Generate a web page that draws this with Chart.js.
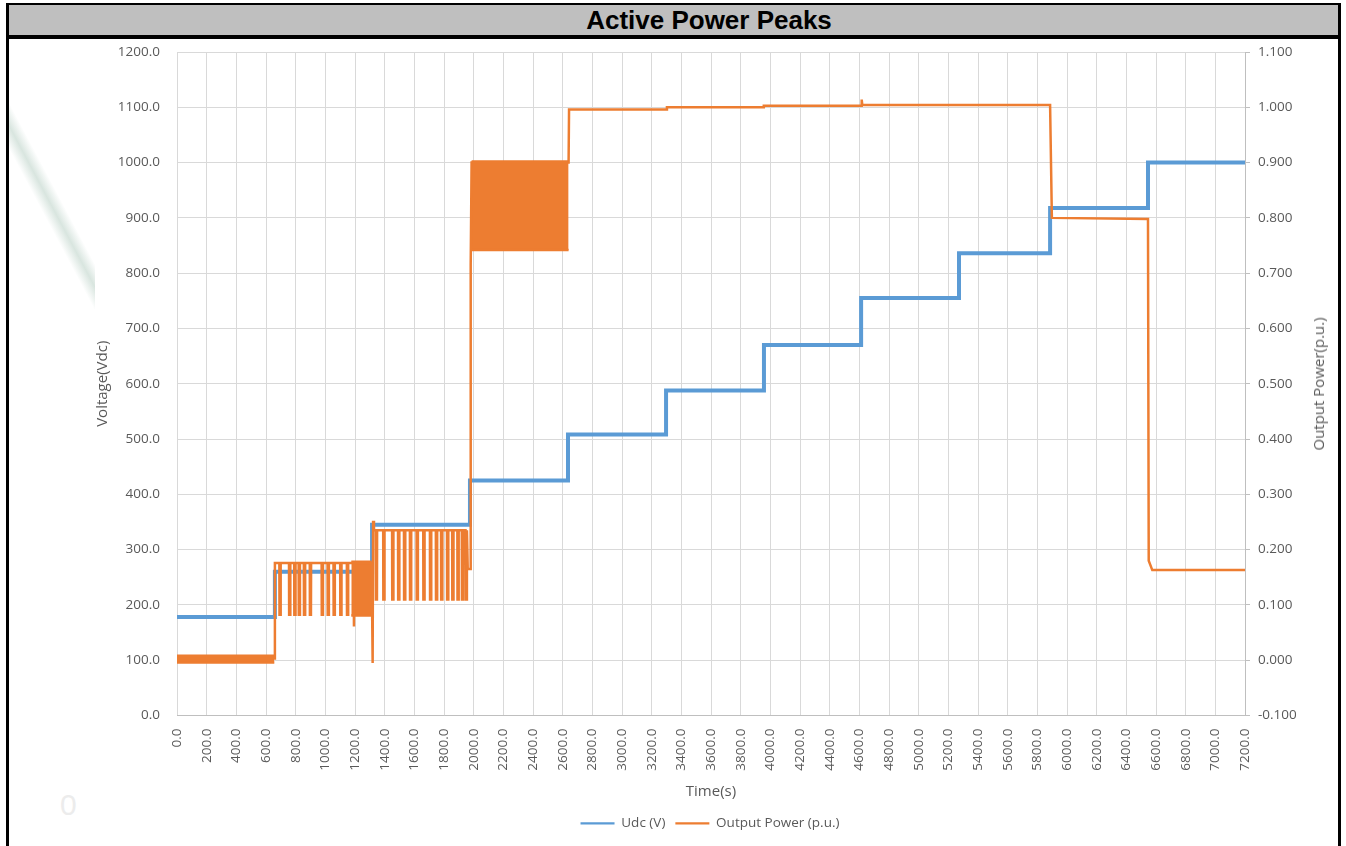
<!DOCTYPE html>
<html>
<head>
<meta charset="utf-8">
<script src="https://cdn.jsdelivr.net/npm/chart.js@4.4.1/dist/chart.umd.min.js"></script>
<style>
html,body{margin:0;padding:0;background:#fff;width:1346px;height:846px;overflow:hidden;font-family:"Open Sans",sans-serif;}
#frame{position:absolute;left:6px;top:3px;width:1329px;height:860px;border-left:3px solid #000;border-right:3px solid #000;border-top:2px solid #000;}
#titlebar{position:absolute;left:0;top:0;width:1329px;height:30px;background:#bfbfbf;border-bottom:4px solid #000;overflow:hidden;}
#titletext{position:absolute;left:0;top:0;width:1400px;text-align:center;font-family:"Liberation Sans",Arial,sans-serif;font-weight:bold;font-size:26px;line-height:30px;color:#000;}
#wmclip{position:absolute;left:9px;top:39px;width:86px;height:300px;overflow:hidden;}
#wmline{position:absolute;left:36px;top:25px;width:22px;height:300px;background:linear-gradient(to right,rgba(205,222,214,0),rgba(185,208,197,0.55),rgba(205,222,214,0));transform:rotate(-28deg);transform-origin:50% 50%;}
#wmzero{position:absolute;left:60px;top:788px;font-size:30px;color:#ececec;font-family:"Liberation Sans",Arial,sans-serif;}
#chartbox{position:absolute;left:10px;top:40px;width:1326px;height:806px;}
#y1title{position:absolute;left:1318px;top:384px;transform:translate(-50%,-50%) rotate(-90deg);white-space:nowrap;font-family:"Open Sans",sans-serif;font-size:15px;color:#595959;}
</style>
</head>
<body>
<div id="frame"><div id="titlebar"><div id="titletext">Active Power Peaks</div></div></div>
<div id="wmclip"><div id="wmline"></div></div>
<div id="wmzero">0</div>
<div id="chartbox"><canvas id="c" width="1326" height="806" style="width:1326px;height:806px"></canvas></div>
<div id="y1title">Output Power(p.u.)</div>
<script>
// ---------- Tick labels ----------
const timeTickLabels = ['0.0','200.0','400.0','600.0','800.0','1000.0','1200.0','1400.0','1600.0','1800.0','2000.0','2200.0','2400.0','2600.0','2800.0','3000.0','3200.0','3400.0','3600.0','3800.0','4000.0','4200.0','4400.0','4600.0','4800.0','5000.0','5200.0','5400.0','5600.0','5800.0','6000.0','6200.0','6400.0','6600.0','6800.0','7000.0','7200.0'];
const voltTickLabels = ['0.0','100.0','200.0','300.0','400.0','500.0','600.0','700.0','800.0','900.0','1000.0','1100.0','1200.0'];
const powerTickLabels = ['-0.100','0.000','0.100','0.200','0.300','0.400','0.500','0.600','0.700','0.800','0.900','1.000','1.100'];

// ---------- Udc (V): step changes ----------
const udcStepTimes = [0, 660, 1315, 1975, 2636, 3297, 3957, 4612, 5272, 5886, 6546, 7200];
const udcLevels    = [178, 260, 345, 425, 508, 588, 670, 755, 836, 918, 1000, 1000];

// ---------- Output Power (p.u.): main trace skeleton ----------
const powerTimes  = [0, 656, 660, 1175, 1190, 1193, 1196, 1312, 1319, 1322, 1328, 1955, 1960, 1976, 1980, 1986, 2640, 2643, 3300, 3303, 3953, 3956, 4613, 4616, 4620, 5886, 5898, 6546, 6551, 6575, 7200];
const powerValues = [0.003, 0.003, 0.176, 0.176, 0.176, 0.061, 0.176, 0.176, -0.005, 0.252, 0.235, 0.235, 0.165, 0.165, 0.715, 0.900, 0.900, 0.996, 0.996, 1.000, 1.000, 1.003, 1.003, 1.014, 1.004, 1.004, 0.800, 0.798, 0.180, 0.163, 0.163];

// periodic drops (dips) of output power
const dropsA = [690, 755, 790, 820, 855, 895, 975, 1015, 1055, 1100, 1145];
const dropsAHigh = 0.176, dropsALow = 0.082;
const dropsB = [1340, 1390, 1450, 1490, 1530, 1570, 1615, 1660, 1705, 1745, 1780, 1820, 1855, 1890, 1920, 1945];
const dropsBHigh = 0.235, dropsBLow = 0.110;

// dense oscillation bands (envelopes)
const bandStart = [0, 1175, 1986];
const bandEnd   = [656, 1312, 2640];
const bandHigh  = [0.008, 0.178, 0.902];
const bandLow   = [-0.004, 0.081, 0.742];

// ---------- build datasets ----------
const ORANGE = '#ED7D31', BLUE = '#5B9BD5';
const udcPts = udcStepTimes.map((t, i) => ({x: t, y: udcLevels[i]}));

const powerPts = powerTimes.map((t, i) => ({x: t, y: powerValues[i]}));
function addDrops(times, hi, lo) {
  times.forEach(t => {
    powerPts.push({x: t, y: hi}, {x: t + 1, y: lo}, {x: t + 8, y: lo}, {x: t + 9, y: hi});
  });
}
addDrops(dropsA, dropsAHigh, dropsALow);
addDrops(dropsB, dropsBHigh, dropsBLow);
powerPts.sort((a, b) => a.x - b.x);

const datasets = [
  {label: 'Udc (V)', data: udcPts, yAxisID: 'y', borderColor: BLUE, backgroundColor: BLUE,
   borderWidth: 4, stepped: true, pointRadius: 0, fill: false, order: 3},
  {label: 'Output Power (p.u.)', data: powerPts, yAxisID: 'y1', borderColor: ORANGE, backgroundColor: ORANGE,
   borderWidth: 2.5, pointRadius: 0, fill: false, order: 1, tension: 0}
];
bandStart.forEach((s, i) => {
  datasets.push({label: 'band' + i + 'hi', data: [{x: s, y: bandHigh[i]}, {x: bandEnd[i], y: bandHigh[i]}],
    yAxisID: 'y1', borderColor: ORANGE, backgroundColor: ORANGE, borderWidth: 2.5, pointRadius: 0, fill: false, order: 1});
  datasets.push({label: 'band' + i + 'lo', data: [{x: s, y: bandLow[i]}, {x: bandEnd[i], y: bandLow[i]}],
    yAxisID: 'y1', borderColor: ORANGE, backgroundColor: ORANGE, borderWidth: 2.5, pointRadius: 0, fill: '-1', order: 1});
});

const FONT = '"Open Sans", sans-serif';
const TXT = '#595959';

function noVPad(s) { s.paddingTop = 0; s.paddingBottom = 0; }

new Chart(document.getElementById('c'), {
  type: 'line',
  data: {datasets},
  options: {
    responsive: false,
    animation: false,
    events: [],
    layout: {padding: {left: 80, right: 6, top: 12, bottom: 6}},
    plugins: {
      tooltip: {enabled: false},
      legend: {
        position: 'bottom',
        labels: {
          generateLabels: (chart) => Chart.defaults.plugins.legend.labels.generateLabels(chart).map(it => Object.assign(it, {lineWidth: 2.25})),
          filter: (item) => item.datasetIndex < 2,
          sort: (a, b) => a.datasetIndex - b.datasetIndex,
          usePointStyle: true, pointStyle: 'line', pointStyleWidth: 34,
          color: TXT, font: {family: FONT, size: 13.5}, padding: 10
        }
      }
    },
    scales: {
      x: {
        type: 'linear', min: 0, max: 7200,
        ticks: {stepSize: 200, autoSkip: false, minRotation: 90, maxRotation: 90, padding: 13,
                color: TXT, font: {family: FONT, size: 13.5},
                callback: (v, i) => timeTickLabels[i]},
        grid: {color: '#d9d9d9', drawTicks: false},
        border: {color: '#bfbfbf'},
        title: {display: true, text: 'Time(s)', color: TXT, font: {family: FONT, size: 15}, padding: {top: 0, bottom: 6}},
        afterFit: (s) => { s.height = 91; s.paddingLeft = 0; s.paddingRight = 0; }
      },
      y: {
        position: 'left', min: 0, max: 1200,
        ticks: {stepSize: 100, padding: 17, color: TXT, font: {family: FONT, size: 13.5},
                callback: (v, i) => voltTickLabels[i]},
        grid: {color: '#d9d9d9', drawTicks: false},
        border: {display: false},
        title: {display: true, text: 'Voltage(Vdc)', color: TXT, font: {family: FONT, size: 15}, padding: {top: 4, bottom: 0}},
        afterFit: (s) => { s.width = 87; noVPad(s); }
      },
      y1: {
        position: 'right', min: -0.1, max: 1.1,
        ticks: {stepSize: 0.1, padding: 8, color: TXT, font: {family: FONT, size: 13.5},
                callback: (v, i) => powerTickLabels[i]},
        grid: {drawOnChartArea: false, drawTicks: true, tickLength: 5, color: '#bfbfbf'},
        border: {color: '#bfbfbf'},
        afterFit: (s) => { s.width = 85; noVPad(s); }
      }
    }
  }
});
</script>
</body>
</html>
